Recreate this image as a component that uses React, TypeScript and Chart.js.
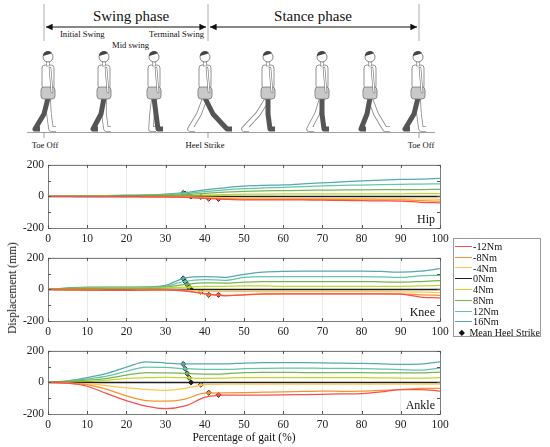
import { useEffect, useRef } from "react";
import { Chart, registerables } from "chart.js";
Chart.register(...registerables);

// gait percentage samples
const GAIT = [0, 5, 10, 15, 20, 25, 30, 35, 40, 45, 50, 55, 60, 65, 70, 75, 80, 85, 90, 95, 100];
const X_TICKS = [0, 10, 20, 30, 40, 50, 60, 70, 80, 90, 100];
const Y_TICKS = [-200, -100, 0, 100, 200];

const SERIES = ["-12Nm", "-8Nm", "-4Nm", "0Nm", "4Nm", "8Nm", "12Nm", "16Nm"];
const COLORS = [
  "rgb(248,78,82)",
  "rgb(246,148,40)",
  "rgb(255,198,78)",
  "#1e1e1e",
  "rgb(188,218,38)",
  "rgb(122,178,88)",
  "rgb(98,198,168)",
  "rgb(88,168,172)",
];

// hip displacement (mm)
const hipM12 = [0, 0, -1, -1, -1, -2, -3, -6, -12, -18, -22, -22, -21, -22, -24, -25, -27, -28, -30, -37, -40];
const hipM8 = [0, 0, 0, 0, -1, -2, -3, -5, -10, -14, -17, -18, -18, -18, -19, -20, -21, -22, -22, -27, -30];
const hipM4 = [0, 0, 0, 0, -1, -1, -2, -3, -5, -8, -10, -11, -12, -13, -13, -14, -14, -15, -15, -17, -18];
const hip0 = [0, 0, 0, 0, 0, 0, 0, 0, 0, 0, 0, 0, 0, 0, 0, 0, 0, 0, 0, 0, 0];
const hipP4 = [0, 1, 1, 2, 2, 3, 4, 5, 9, 12, 14, 15, 16, 16, 17, 17, 17, 17, 17, 18, 18];
const hipP8 = [0, 1, 2, 3, 4, 5, 8, 12, 20, 27, 32, 35, 37, 39, 40, 41, 42, 43, 44, 44, 45];
const hipP12 = [0, 2, 3, 5, 6, 8, 12, 20, 30, 42, 50, 54, 57, 63, 67, 70, 72, 75, 77, 78, 80];
const hipP16 = [0, 2, 4, 6, 8, 10, 15, 25, 42, 55, 65, 70, 73, 80, 86, 92, 99, 104, 108, 110, 115];

// knee displacement (mm)
const kneeM12 = [0, -2, -5, -6, -6, -4, -2, -10, -26, -40, -34, -28, -28, -28, -28, -28, -28, -28, -30, -48, -54];
const kneeM8 = [0, -2, -5, -6, -6, -4, -2, -8, -30, -38, -34, -30, -28, -28, -28, -28, -28, -28, -28, -34, -38];
const kneeM4 = [0, -1, -3, -4, -4, -3, -2, -5, -12, -14, -14, -14, -14, -14, -14, -14, -14, -14, -15, -17, -20];
const knee0 = [0, 0, 0, 0, 0, 0, 0, 0, 0, 0, 0, 0, 0, 0, 0, 0, 0, 0, 0, 0, 0];
const kneeP4 = [0, 5, 7, 8, 8, 8, 10, 14, 20, 20, 22, 22, 20, 20, 20, 20, 20, 20, 20, 22, 26];
const kneeP8 = [0, 7, 10, 11, 11, 11, 14, 32, 42, 40, 46, 50, 50, 50, 50, 50, 50, 48, 46, 50, 56];
const kneeP12 = [0, 9, 12, 13, 13, 14, 20, 52, 62, 58, 76, 82, 82, 82, 82, 82, 82, 80, 76, 86, 90];
const kneeP16 = [0, 10, 14, 15, 15, 16, 26, 74, 82, 76, 96, 110, 115, 116, 116, 116, 116, 114, 110, 116, 132];

// ankle displacement (mm)
const ankleM12 = [0, -5, -24, -71, -115, -150, -166, -149, -95, -81, -80, -80, -79, -77, -75, -73, -71, -60, -45, -45, -55];
const ankleM8 = [0, -4, -14, -44, -85, -115, -119, -105, -68, -66, -65, -62, -59, -57, -55, -56, -55, -50, -45, -38, -38];
const ankleM4 = [0, -3, -8, -20, -34, -44, -50, -38, -14, -10, -10, -10, -10, -10, -10, -10, -10, -10, -10, -10, -10];
const ankle0 = [0, 0, 0, 0, 0, 0, 0, 0, 0, 0, 0, 0, 0, 0, 0, 0, 0, 0, 0, 0, 0];
const ankleP4 = [0, 3, 6, 14, 26, 30, 32, 30, 26, 28, 30, 30, 30, 30, 30, 30, 30, 29, 28, 28, 30];
const ankleP8 = [0, 6, 14, 26, 46, 63, 61, 57, 53, 55, 63, 64, 64, 63, 63, 62, 62, 61, 60, 60, 66];
const ankleP12 = [0, 8, 22, 40, 71, 97, 95, 87, 83, 83, 87, 90, 91, 91, 90, 89, 88, 85, 82, 78, 91];
const ankleP16 = [0, 10, 30, 57, 97, 131, 123, 117, 117, 117, 123, 125, 125, 125, 124, 122, 121, 118, 115, 116, 131];

// mean heel strike (gait %) per torque, same order as SERIES
const STRIKE_X = [43.5, 41, 39, 36.5, 36, 35.5, 35, 34.5];
const HIP_STRIKE = [-16, -14, -3, 0, 6, 12, 17, 22];
const KNEE_STRIKE = [-34, -34, -14, 0, 14, 32, 50, 70];
const ANKLE_STRIKE = [-79, -65, -14, 0, 30, 57, 87, 117];

const HIP = [hipM12, hipM8, hipM4, hip0, hipP4, hipP8, hipP12, hipP16];
const KNEE = [kneeM12, kneeM8, kneeM4, knee0, kneeP4, kneeP8, kneeP12, kneeP16];
const ANKLE = [ankleM12, ankleM8, ankleM4, ankle0, ankleP4, ankleP8, ankleP12, ankleP16];

const SERIF = '"Liberation Serif", "DejaVu Serif", serif';

const framePlugin = {
  id: "frame",
  afterDraw(chart: any, _args: any, opts: any) {
    const { ctx, chartArea: a } = chart;
    ctx.save();
    ctx.strokeStyle = "#7c7c7c";
    ctx.lineWidth = 1;
    ctx.strokeRect(Math.round(a.left) + 0.5, Math.round(a.top) + 0.5, Math.round(a.width), Math.round(a.height));
    // little inward ticks like the original
    ctx.strokeStyle = "#555";
    const xs = chart.scales.x;
    X_TICKS.forEach((t) => {
      const px = Math.round(xs.getPixelForValue(t)) + 0.5;
      ctx.beginPath();
      ctx.moveTo(px, a.top);
      ctx.lineTo(px, a.top + 3);
      ctx.moveTo(px, a.bottom);
      ctx.lineTo(px, a.bottom - 3);
      ctx.stroke();
    });
    const ys = chart.scales.y;
    Y_TICKS.forEach((t) => {
      const py = Math.round(ys.getPixelForValue(t)) + 0.5;
      ctx.beginPath();
      ctx.moveTo(a.left, py);
      ctx.lineTo(a.left + 3, py);
      ctx.moveTo(a.right, py);
      ctx.lineTo(a.right - 3, py);
      ctx.stroke();
    });
    ctx.font = `12px ${SERIF}`;
    ctx.fillStyle = "#111";
    ctx.textAlign = "right";
    ctx.textBaseline = "bottom";
    ctx.fillText(opts.label, a.right - 5, a.bottom - 2);
    ctx.restore();
  },
};

function JointChart({ rows, strike, label, top }: { rows: number[][]; strike: number[]; label: string; top: number }) {
  const ref = useRef<HTMLCanvasElement | null>(null);

  useEffect(() => {
    if (!ref.current) return;
    const lines = rows.map((vals, i) => ({
      label: SERIES[i],
      data: GAIT.map((g, j) => ({ x: g, y: vals[j] })),
      borderColor: COLORS[i],
      borderWidth: i === 3 ? 1.6 : 1.25,
      pointRadius: 0,
      cubicInterpolationMode: "monotone" as const,
    }));
    const marks = {
      label: "Mean Heel Strike",
      data: STRIKE_X.map((x, i) => ({ x, y: strike[i] })),
      showLine: false,
      pointStyle: "rectRot" as const,
      pointRadius: 2.6,
      pointBackgroundColor: COLORS,
      pointBorderColor: "#111",
      pointBorderWidth: 0.8,
    };
    const chart = new Chart(ref.current, {
      type: "line",
      data: { datasets: [...lines, marks] as any },
      plugins: [framePlugin],
      options: {
        animation: false,
        responsive: false,
        layout: { padding: { top: 8, right: 14, left: 0, bottom: 0 } },
        plugins: { legend: { display: false }, tooltip: { enabled: false }, frame: { label } } as any,
        scales: {
          x: {
            type: "linear",
            min: 0,
            max: 100,
            afterFit: (s: any) => { s.height = 22; },
            afterBuildTicks: (s: any) => { s.ticks = X_TICKS.map((v) => ({ value: v })); },
            grid: { color: "#ebebeb", drawTicks: false },
            border: { display: false },
            ticks: { padding: 4, color: "#222", font: { family: SERIF, size: 11.5 } },
          },
          y: {
            min: -200,
            max: 200,
            afterFit: (s: any) => { s.width = 48; },
            afterBuildTicks: (s: any) => { s.ticks = Y_TICKS.map((v) => ({ value: v })); },
            grid: { color: "#ebebeb", drawTicks: false },
            border: { display: false },
            ticks: { padding: 4, color: "#222", font: { family: SERIF, size: 11.5 } },
          },
        },
      },
    });
    return () => chart.destroy();
  }, [rows, strike, label]);

  return (
    <canvas
      ref={ref}
      width={454}
      height={96}
      style={{ position: "absolute", left: 0, top: top - 8, width: 454, height: 96 }}
    />
  );
}

// rough walking figures for the header strip: [darkKnee, darkFoot, lightKnee, lightFoot] x-offsets
const FIGURES: [number, number[]][] = [
  [48, [-4, -13, 1, 3]],
  [104, [-3, -11, 0, 2]],
  [154, [2, 4, -2, -3]],
  [205, [8, 22, -6, -15]],
  [268, [0, 2, -10, -24]],
  [322, [0, 2, -5, -13]],
  [370, [-3, -9, 6, 15]],
  [418, [-4, -13, 1, 3]],
];

function Walker({ cx, pose }: { cx: number; pose: number[] }) {
  const [dk, df, lk, lf] = pose;
  return (
    <g>
      <path d={`M${cx},98 L${cx + lk},114 L${cx + lf},129 l5,0`} stroke="#8a8a8a" strokeWidth={5.5} fill="none" strokeLinejoin="round" />
      <path d={`M${cx},98 L${cx + lk},114 L${cx + lf},129 l5,0`} stroke="#fff" strokeWidth={3.8} fill="none" strokeLinejoin="round" />
      <path d={`M${cx},98 L${cx + dk},114 L${cx + df},129 l5,0`} stroke="#555" strokeWidth={5} fill="none" strokeLinejoin="round" />
      <rect x={cx - 6} y={65} width={12} height={24} rx={3} fill="#fff" stroke="#777" strokeWidth={0.8} />
      <rect x={cx - 7} y={87} width={14} height={12} rx={3} fill="#c9c9c9" stroke="#777" strokeWidth={0.8} />
      <line x1={cx + 2} y1={68} x2={cx + 4} y2={92} stroke="#777" strokeWidth={2.5} strokeLinecap="round" />
      <line x1={cx + 2} y1={68} x2={cx + 4} y2={92} stroke="#fff" strokeWidth={1.2} strokeLinecap="round" />
      <rect x={cx - 1.5} y={61} width={3} height={5} fill="#fff" stroke="#777" strokeWidth={0.6} />
      <circle cx={cx} cy={57} r={5} fill="#fff" stroke="#666" strokeWidth={0.8} />
      <path d={`M${cx - 5},56 a5,5 0 0 1 9,-3 l-2,1 z`} fill="#444" />
    </g>
  );
}

function GaitHeader() {
  const txt = { fontFamily: SERIF, fill: "#111" };
  return (
    <svg width={550} height={155} style={{ position: "absolute", left: 0, top: 0 }}>
      <defs>
        <marker id="ah" viewBox="0 0 10 10" refX="10" refY="5" markerWidth="6" markerHeight="6" orient="auto-start-reverse">
          <path d="M0,0 L10,5 L0,10 z" fill="#111" />
        </marker>
      </defs>
      {[44, 208, 419].map((x) => (
        <line key={x} x1={x} y1={4} x2={x} y2={41} stroke="#999" strokeWidth={0.8} />
      ))}
      <line x1={46} y1={27} x2={206} y2={27} stroke="#111" strokeWidth={1.1} markerStart="url(#ah)" markerEnd="url(#ah)" />
      <line x1={210} y1={27} x2={417} y2={27} stroke="#111" strokeWidth={1.1} markerStart="url(#ah)" markerEnd="url(#ah)" />
      <text x={131} y={21} textAnchor="middle" fontSize={15} style={txt}>Swing phase</text>
      <text x={313} y={21} textAnchor="middle" fontSize={15} style={txt}>Stance phase</text>
      <text x={60} y={37} fontSize={8.6} style={txt}>Initial Swing</text>
      <text x={112} y={47.5} fontSize={8.6} style={txt}>Mid swing</text>
      <text x={149} y={37} fontSize={8.6} style={txt}>Terminal Swing</text>
      {FIGURES.map(([cx, pose]) => (
        <Walker key={cx} cx={cx} pose={pose} />
      ))}
      <line x1={27} y1={132.5} x2={435} y2={132.5} stroke="#888" strokeWidth={0.8} />
      {[44, 208, 419].map((x) => (
        <line key={"t" + x} x1={x} y1={132} x2={x} y2={138} stroke="#888" strokeWidth={0.8} />
      ))}
      <text x={45} y={148} textAnchor="middle" fontSize={8.6} style={txt}>Toe Off</text>
      <text x={205} y={148} textAnchor="middle" fontSize={8.6} style={txt}>Heel Strike</text>
      <text x={421} y={148} textAnchor="middle" fontSize={8.6} style={txt}>Toe Off</text>
    </svg>
  );
}

function Legend() {
  return (
    <div
      style={{
        position: "absolute",
        left: 453,
        top: 238,
        width: 88,
        height: 99,
        border: "1px solid #999",
        background: "#fff",
        fontFamily: SERIF,
        fontSize: 10.3,
        color: "#111",
        paddingTop: 2,
        boxSizing: "border-box",
      }}
    >
      {SERIES.map((s, i) => (
        <div key={s} style={{ display: "flex", alignItems: "center", height: 10.8 }}>
          <span style={{ display: "inline-block", width: 17, height: 0, borderTop: `1.4px solid ${COLORS[i]}`, margin: "0 1px 0 1px" }} />
          <span>{s}</span>
        </div>
      ))}
      <div style={{ display: "flex", alignItems: "center", height: 10.8 }}>
        <span style={{ display: "inline-block", width: 19, textAlign: "center", fontSize: 8 }}>◆</span>
        <span style={{ fontSize: 10, whiteSpace: "nowrap" }}>Mean Heel Strike</span>
      </div>
    </div>
  );
}

export default function App() {
  return (
    <div style={{ position: "absolute", left: 0, top: 0, width: 550, height: 447, background: "#fff", overflow: "hidden" }}>
      <GaitHeader />
      <JointChart rows={HIP} strike={HIP_STRIKE} label="Hip" top={162} />
      <JointChart rows={KNEE} strike={KNEE_STRIKE} label="Knee" top={255} />
      <JointChart rows={ANKLE} strike={ANKLE_STRIKE} label="Ankle" top={348} />
      <div
        style={{
          position: "absolute",
          left: 12,
          top: 288,
          transform: "translate(-50%,-50%) rotate(-90deg)",
          fontFamily: SERIF,
          fontSize: 11.5,
          whiteSpace: "nowrap",
          color: "#111",
        }}
      >
        Displacement (mm)
      </div>
      <div
        style={{
          position: "absolute",
          left: 244,
          top: 437,
          transform: "translate(-50%,-50%)",
          fontFamily: SERIF,
          fontSize: 11.5,
          whiteSpace: "nowrap",
          color: "#111",
        }}
      >
        Percentage of gait (%)
      </div>
      <Legend />
    </div>
  );
}
